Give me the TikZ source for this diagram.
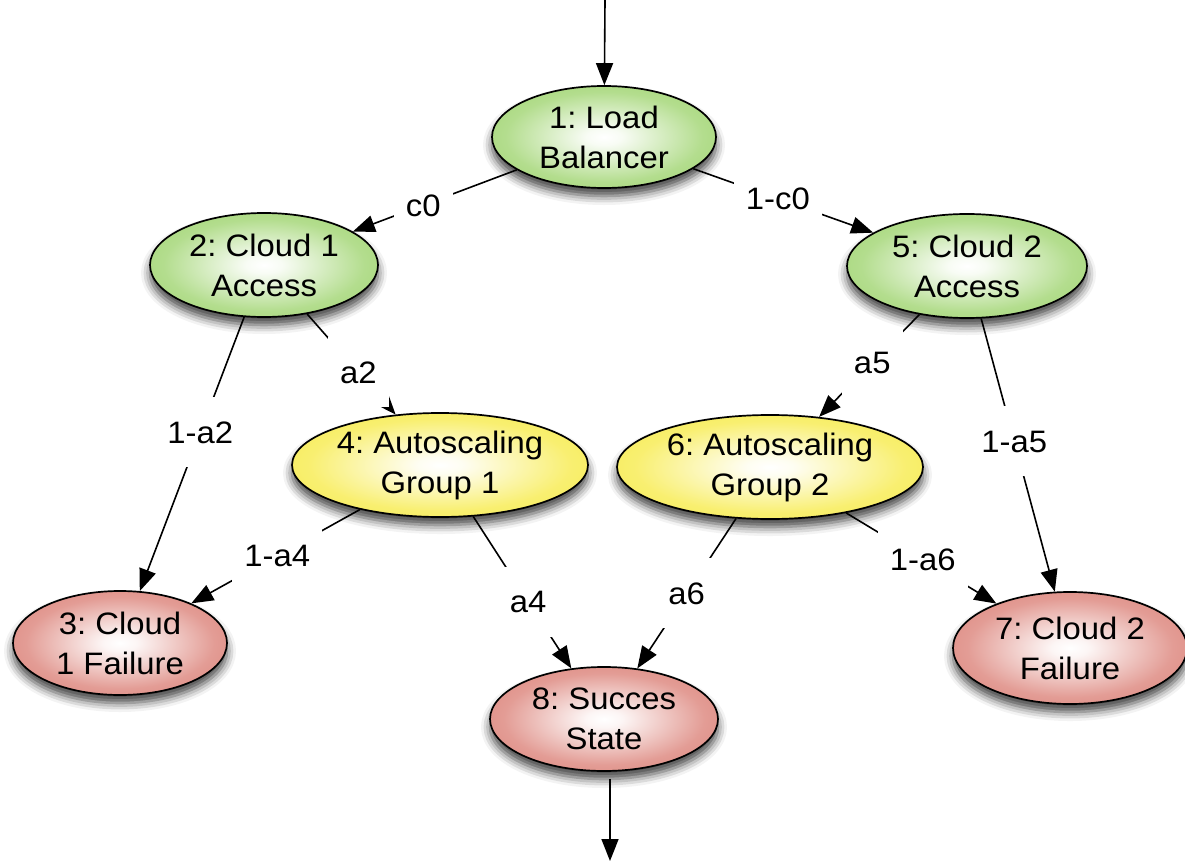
\documentclass[tikz,border=0pt]{standalone}
\usepackage{fontspec}
\setmainfont{Liberation Sans}[FakeStretch=1.06]
\usetikzlibrary{arrows.meta,shapes.geometric,shadows.blur}
\frenchspacing

\definecolor{gEdge}{RGB}{150,208,98}
\definecolor{yEdge}{RGB}{246,233,58}
\definecolor{rEdge}{RGB}{216,118,108}

\pgfdeclareradialshading{gshade}{\pgfpoint{0bp}{0bp}}{color(0bp)=(white); color(4bp)=(white!93!gEdge); color(22bp)=(gEdge!72!white); color(40bp)=(gEdge); color(50bp)=(gEdge)}
\pgfdeclareradialshading{yshade}{\pgfpoint{0bp}{0bp}}{color(0bp)=(white); color(4bp)=(white!93!yEdge); color(22bp)=(yEdge!72!white); color(40bp)=(yEdge); color(50bp)=(yEdge)}
\pgfdeclareradialshading{rshade}{\pgfpoint{0bp}{0bp}}{color(0bp)=(white); color(4bp)=(white!93!rEdge); color(22bp)=(rEdge!72!white); color(40bp)=(rEdge); color(50bp)=(rEdge)}

\tikzset{
  state/.style={ellipse, draw=black, line width=1.7pt, inner sep=0pt, align=center,
    font=\fontsize{31}{40}\selectfont,
    blur shadow={shadow xshift=0pt, shadow yshift=-8pt, shadow blur radius=9pt, shadow opacity=75}},
  gstate/.style={state, shading=gshade},
  ystate/.style={state, shading=yshade},
  rstate/.style={state, shading=rshade},
  edge/.style={line width=1.6pt, -{Triangle[length=22pt,width=17pt]}},
  lbl/.style={fill=white, font=\fontsize{31}{36}\selectfont, text height=22pt, text depth=0pt,
    inner xsep=12pt, inner ysep=24pt},
}

\begin{document}
\begin{tikzpicture}[x=1pt, y=-1pt]
  \useasboundingbox (0,0) rectangle (1185,861);

  \node[gstate, minimum width=224pt, minimum height=102pt] (n1) at (604,137) {1: Load\\Balancer};
  \node[gstate, minimum width=228pt, minimum height=104pt] (n2) at (264,265) {2: Cloud 1\\Access};
  \node[gstate, minimum width=240pt, minimum height=104pt] (n5) at (967,266) {5: Cloud 2\\Access};
  \node[ystate, minimum width=296pt, minimum height=104pt] (n4) at (440,465) {4: Autoscaling\\Group 1};
  \node[ystate, minimum width=306pt, minimum height=104pt] (n6) at (770,467) {6: Autoscaling\\Group 2};
  \node[rstate, minimum width=214pt, minimum height=104pt] (n3) at (120,643) {3: Cloud\\1 Failure};
  \node[rstate, minimum width=228pt, minimum height=104pt] (n8) at (604,719) {8: Succes\\State};
  \node[rstate, minimum width=234pt, minimum height=112pt] (n7) at (1070,648) {7: Cloud 2\\Failure};

  \coordinate (top) at (605,0);
  \coordinate (bot) at (610,861);

  \draw[edge] (top) -- (n1);
  \draw[edge] ([xshift=6pt,yshift=-7pt]n8.south) -- (bot);

  \draw[edge] (n1) -- node[lbl, pos=0.57] {c0} (n2);
  \draw[edge] (n1) -- node[lbl, pos=0.47] {1-c0} (n5);
  \draw[edge] (n2) -- node[lbl, pos=0.42] {1-a2} (n3);
  \draw[edge] (n2) -- node[lbl, pos=0.58] {a2} (n4);
  \draw[edge] (n5) -- node[lbl, pos=0.47] {a5} (n6);
  \draw[edge] (n5) -- node[lbl, pos=0.45] {1-a5} (n7);
  \draw[edge] (n4) -- node[lbl, pos=0.49] {1-a4} (n3);
  \draw[edge] (n4) -- node[lbl, pos=0.56] {a4} (n8);
  \draw[edge] (n6) -- node[lbl, pos=0.50] {a6} (n8);
  \draw[edge] (n6) -- node[lbl, pos=0.51] {1-a6} (n7);
\end{tikzpicture}
\end{document}
